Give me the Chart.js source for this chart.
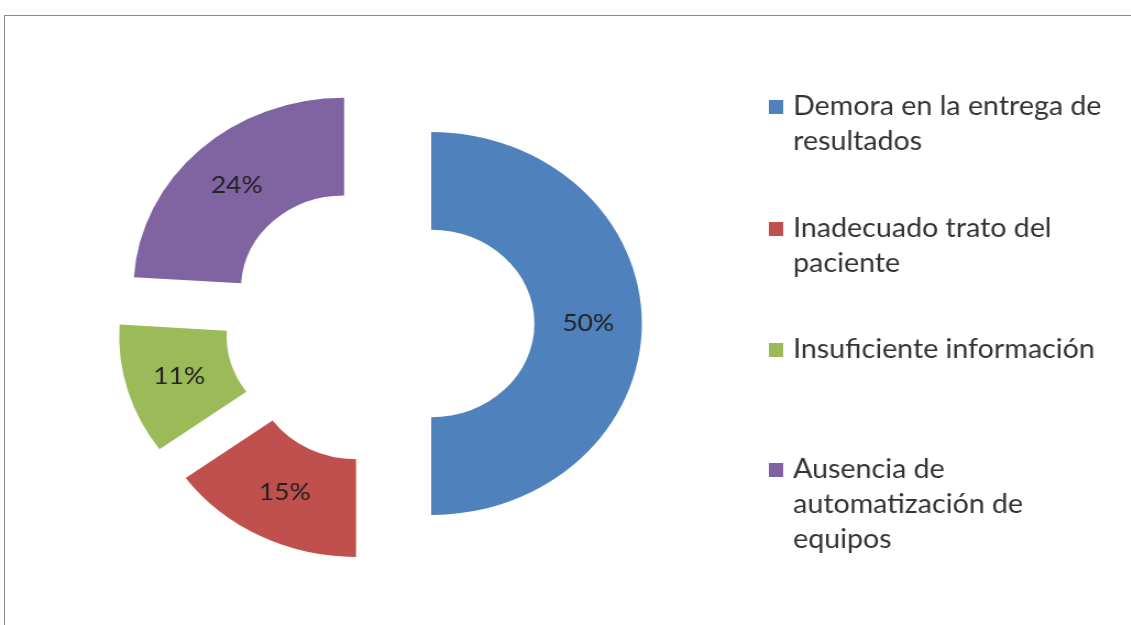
<!DOCTYPE html>
<html>
<head>
<meta charset="utf-8">
<script src="https://cdn.jsdelivr.net/npm/chart.js@4/dist/chart.umd.min.js"></script>
<style>
  html, body { margin: 0; padding: 0; background: #fff; overflow: hidden; }
  #frame {
    position: absolute; left: 4px; top: 15px; width: 1200px; height: 700px;
    border-top: 1px solid #8a8a8a; border-left: 1px solid #8a8a8a;
  }
  #wrap {
    position: absolute; left: 0; top: 0; width: 1028px; height: 625px;
    transform: scaleX(1.1); transform-origin: 0 0;
  }
</style>
</head>
<body>
<div id="frame"></div>
<div id="wrap"><canvas id="causas" width="1028" height="625"></canvas></div>
<script>
// legend labels, one array entry per text line
const categories = [
    ['Demora en la entrega de', 'resultados'],
    ['Inadecuado trato del', 'paciente'],
    ['Insuficiente información'],
    ['Ausencia de', 'automatización de', 'equipos']
];
const percents = [50, 15, 11, 24];
const sliceColors = ['#4f81bd', '#c0504d', '#9bbb59', '#8064a2'];

const EXPLODE = 47;

// pull every slice out along its middle angle, then write the % in it
const explodePlugin = {
    id: 'explode',
    beforeDatasetDraw(chart, args) {
        const ctx = chart.ctx;
        const values = chart.data.datasets[args.index].data;
        args.meta.data.forEach((arc, i) => {
            const mid = (arc.startAngle + arc.endAngle) / 2;
            const dx = Math.cos(mid) * EXPLODE, dy = Math.sin(mid) * EXPLODE;
            ctx.save();
            ctx.translate(dx, dy);
            arc.draw(ctx);
            ctx.restore();

            const p = arc.tooltipPosition(true);
            ctx.save();
            ctx.font = '24px Lato';
            ctx.fillStyle = '#222';
            ctx.textAlign = 'center';
            ctx.textBaseline = 'middle';
            ctx.fillText(values[i] + '%', p.x + dx, p.y + dy);
            ctx.restore();
        });
        return false;
    }
};

// legend on the right with wrapped entries
const sideLegend = {
    id: 'sideLegend',
    afterDraw(chart) {
        const ctx = chart.ctx;
        const colors = chart.data.datasets[0].backgroundColor;
        const rowY = [107, 229, 350, 470];
        ctx.save();
        ctx.font = '26px Lato';
        ctx.fillStyle = '#333';
        ctx.textBaseline = 'middle';
        chart.data.labels.forEach((lines, i) => {
            ctx.fillStyle = colors[i];
            ctx.fillRect(699, rowY[i] - 7, 13, 14);
            ctx.fillStyle = '#333';
            lines.forEach((line, j) => ctx.fillText(line, 721, rowY[i] + j * 35));
        });
        ctx.restore();
    }
};

function RenderDoughnut(elementId, labels, data, colors) {
    const ctx = document.getElementById(elementId).getContext('2d');
    return new Chart(ctx, {
        type: 'doughnut',
        data: {
            labels: labels,
            datasets: [{
                data: data,
                backgroundColor: colors,
                borderWidth: 0,
                hoverOffset: 0
            }]
        },
        options: {
            responsive: false,
            animation: false,
            events: [],
            cutout: '49%',
            layout: { padding: { top: 132, bottom: 110, left: 153.5, right: 491.5 } },
            plugins: {
                legend: { display: false },
                tooltip: { enabled: false }
            }
        },
        plugins: [explodePlugin, sideLegend]
    });
}

RenderDoughnut('causas', categories, percents, sliceColors);
</script>
</body>
</html>
